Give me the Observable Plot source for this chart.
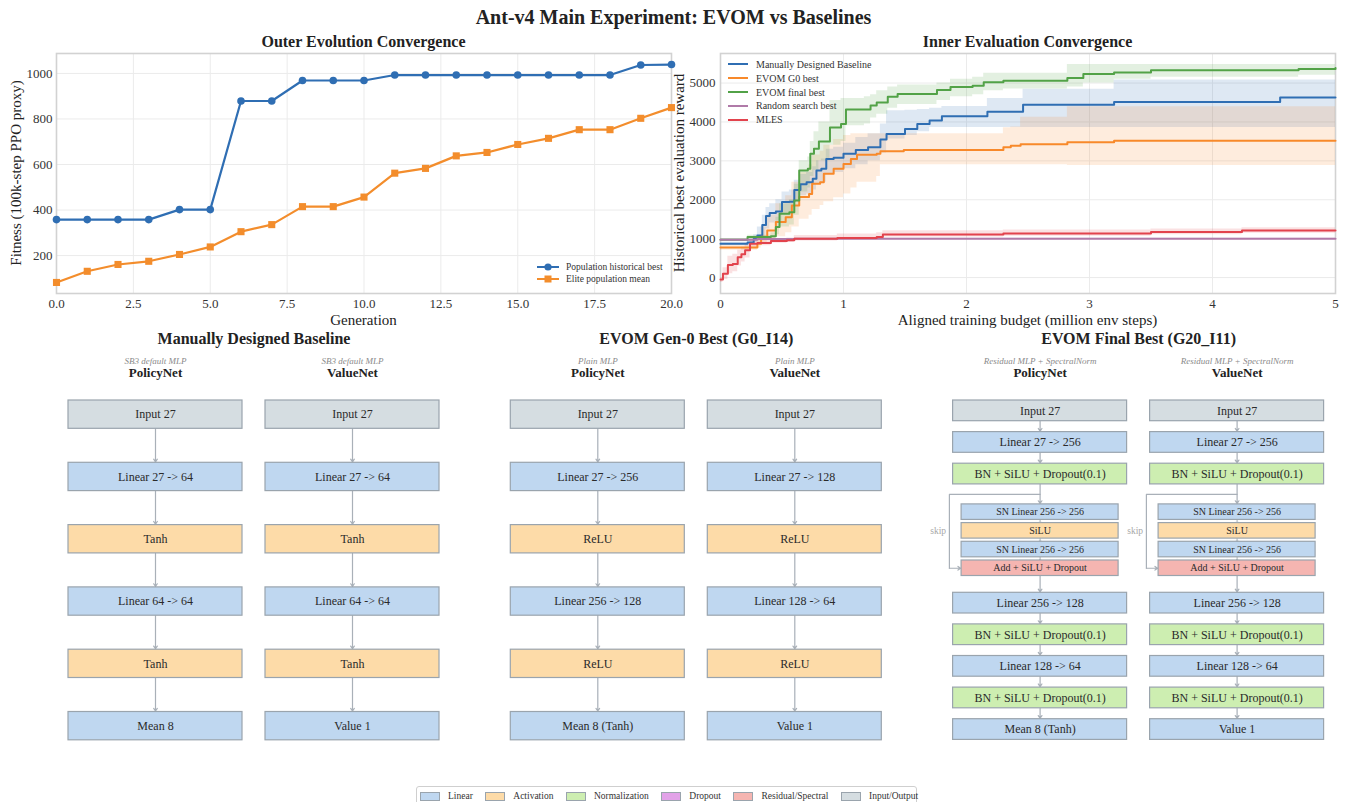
<!DOCTYPE html>
<html><head><meta charset="utf-8">
<script src="https://cdn.jsdelivr.net/npm/d3@7"></script>
<script src="https://cdn.jsdelivr.net/npm/@observablehq/plot@0.6"></script>
<style>
html,body{margin:0;padding:0;background:#fff;}
#root{position:relative;width:1347px;height:802px;overflow:hidden;font-family:"Liberation Serif","Times New Roman",Times,serif;color:#222;}
.abs{position:absolute;}
.ctr{position:absolute;white-space:nowrap;line-height:1;transform:translate(-50%,-50%);}
.rot{position:absolute;white-space:nowrap;line-height:1;transform:translate(-50%,-50%) rotate(-90deg);}
.leg{position:absolute;font-size:10px;color:#333;}
.leg .row{display:flex;align-items:center;white-space:nowrap;}
.blegend{position:absolute;left:416px;top:786px;width:501px;height:24px;border:1px solid #cfcfcf;border-radius:3px;display:flex;align-items:flex-start;padding-top:4px;padding-left:3px;box-sizing:border-box;font-size:9.5px;color:#333;}
.blegend .it{display:flex;align-items:center;margin-right:12.5px;white-space:nowrap;}
.blegend .sw{width:18px;height:7px;border:1px solid #9aa4ad;margin-right:8px;}
</style></head>
<body><div id="root"></div>
<script>
const FONT = '"Liberation Serif", "Times New Roman", Times, serif';

// ---------------- Outer evolution convergence ----------------
const generations = [0,1,2,3,4,5,6,7,8,9,10,11,12,13,14,15,16,17,18,19,20];
const historicalBest = [358,358,358,358,402,402,879,879,969,969,969,993,993,993,993,993,993,993,993,1037,1039];
const eliteMean = [82,131,161,175,205,238,305,336,415,415,457,562,583,638,653,688,715,753,753,803,850];
const genTicks = [0,2.5,5,7.5,10,12.5,15,17.5,20];
const fitnessTicks = [200,400,600,800,1000];
const outerNames = ["Population historical best","Elite population mean"];
const outerColors = ["#2f6eb3","#f38d2c"];

// ---------------- Inner evaluation convergence ----------------
const budgetTicks = [0,1,2,3,4,5];
const rewardTicks = [0,1000,2000,3000,4000,5000];
const seriesNames = ["Manually Designed Baseline","EVOM G0 best","EVOM final best","Random search best","MLES"];
const seriesColors = ["#2f6eb3","#f8892a","#52a247","#b07aa8","#e2434d"];

const baselineBudget = [0,0.22,0.27,0.30,0.34,0.37,0.40,0.45,0.50,0.56,0.60,0.65,0.70,0.75,0.78,0.82,0.86,0.92,1.00,1.10,1.20,1.30,1.35,1.50,1.60,1.70,1.80,2.17,2.46,3.20,4.55,5.00];
const baselineReward = [870,900,1000,1080,1350,1580,1660,1700,1940,1950,2250,2400,2450,2540,2750,2800,3050,3080,3180,3280,3350,3550,3690,3820,3950,4040,4150,4260,4440,4510,4630,4630];
const baselineLow = [830,850,900,950,1050,1250,1400,1450,1650,1700,1950,2100,2150,2250,2400,2450,2650,2700,2800,2900,3000,3200,3560,3650,3750,3860,3860,3860,3860,3860,3860,3860];
const baselineHigh = [910,960,1100,1300,1600,1800,1900,2000,2200,2250,2500,2650,2700,2850,3000,3050,3300,3350,3450,3600,3700,3950,4290,4300,4320,4350,4400,4600,4840,5080,5080,5080];

const g0Budget = [0,0.30,0.33,0.38,0.45,0.53,0.58,0.64,0.72,0.745,0.81,0.84,0.92,1.00,1.06,1.11,1.27,1.30,1.49,2.30,2.36,2.44,2.82,3.20,5.00];
const g0Reward = [770,870,1050,1210,1430,1550,1850,2070,2150,2410,2450,2670,2800,2920,3050,3160,3180,3250,3280,3350,3390,3430,3480,3520,3520];
const g0Low = [700,760,850,950,1050,1150,1300,1500,1600,1750,1850,1950,2050,2150,2300,2450,2600,2900,2900,2900,2900,2900,2880,2880,2880];
const g0High = [840,1000,1300,1600,1900,2100,2450,2700,2900,3150,3250,3400,3550,3650,3700,3700,3700,3700,3700,3850,3870,4120,4390,4390,4390];

const finalBudget = [0,0.22,0.41,0.45,0.48,0.56,0.60,0.64,0.71,0.73,0.76,0.80,0.89,0.98,1.02,1.17,1.22,1.27,1.36,1.44,1.76,1.87,2.05,2.14,2.30,2.82,2.95,3.20,3.50,4.70,5.00];
const finalReward = [975,1040,1060,1300,1640,1680,1980,2750,2800,3180,3310,3500,3860,3950,4320,4320,4420,4500,4650,4720,4820,4900,4930,5020,5060,5130,5230,5270,5330,5360,5385];
const finalLow = [950,990,1000,1100,1300,1350,1600,2200,2300,2600,2750,3000,3400,3500,3900,3950,4100,4200,4350,4450,4550,4650,4700,4800,4850,4900,5000,5100,5150,5200,5300];
const finalHigh = [1000,1090,1150,1550,1900,2000,2400,3000,3100,3500,3750,4000,4550,4600,4600,4650,4700,4800,4900,4950,5000,5100,5150,5250,5250,5480,5480,5480,5480,5480,5480];

const randomBudget = [0,0.30,0.60,5.00];
const randomReward = [975,990,1000,1000];
const randomLow = [960,975,985,985];
const randomHigh = [990,1005,1015,1015];

const mlesBudget = [0,0.02,0.06,0.10,0.14,0.17,0.20,0.24,0.30,0.41,0.54,0.60,0.95,1.27,1.32,2.30,3.50,4.24,5.00];
const mlesReward = [-50,100,320,350,520,600,700,870,890,940,960,1000,1020,1040,1110,1130,1170,1210,1210];
const mlesLow = [-130,-50,100,150,300,400,500,780,820,880,900,940,960,980,1040,1060,1100,1140,1140];
const mlesHigh = [0,250,550,600,700,780,850,950,960,1000,1020,1080,1120,1150,1200,1220,1250,1280,1280];

// ---------------- Architecture diagrams ----------------
const panelTitles = ["Manually Designed Baseline","EVOM Gen-0 Best (G0_I14)","EVOM Final Best (G20_I11)"];
const panelNotes = ["SB3 default MLP","Plain MLP","Residual MLP + SpectralNorm"];
const netNames = ["PolicyNet","ValueNet"];
const kindKeys = ["linear","act","norm","dropout","residual","io"];
const kindNames = ["Linear","Activation","Normalization","Dropout","Residual/Spectral","Input/Output"];
const kindColors = ["#bfd7f0","#fddba8","#cdeeb1","#e2a2e8","#f5b5b1","#d5dde1"];

const baselinePolicy = ["Input 27","Linear 27 -> 64","Tanh","Linear 64 -> 64","Tanh","Mean 8"];
const baselineValue = ["Input 27","Linear 27 -> 64","Tanh","Linear 64 -> 64","Tanh","Value 1"];
const g0Policy = ["Input 27","Linear 27 -> 256","ReLU","Linear 256 -> 128","ReLU","Mean 8 (Tanh)"];
const g0Value = ["Input 27","Linear 27 -> 128","ReLU","Linear 128 -> 64","ReLU","Value 1"];
const plainKinds = ["io","linear","act","linear","act","linear"];
const finalPolicy = ["Input 27","Linear 27 -> 256","BN + SiLU + Dropout(0.1)","SN Linear 256 -> 256","SiLU","SN Linear 256 -> 256","Add + SiLU + Dropout","Linear 256 -> 128","BN + SiLU + Dropout(0.1)","Linear 128 -> 64","BN + SiLU + Dropout(0.1)","Mean 8 (Tanh)"];
const finalValue = ["Input 27","Linear 27 -> 256","BN + SiLU + Dropout(0.1)","SN Linear 256 -> 256","SiLU","SN Linear 256 -> 256","Add + SiLU + Dropout","Linear 256 -> 128","BN + SiLU + Dropout(0.1)","Linear 128 -> 64","BN + SiLU + Dropout(0.1)","Value 1"];
const finalKinds = ["io","linear","norm","linear","act","linear","residual","linear","norm","linear","norm","linear"];
const finalInBlock = [0,0,0,1,1,1,1,0,0,0,0,0];

// ================= rendering =================
const root = document.getElementById("root");
function addDiv(cls, text, css) {
  const d = document.createElement("div");
  d.className = cls; if (text != null) d.textContent = text;
  Object.assign(d.style, css || {});
  root.appendChild(d); return d;
}
function placePlot(svg, left, top, width) {
  const d = document.createElement("div");
  d.className = "abs"; d.style.left = left + "px"; d.style.top = top + "px"; d.style.width = width + "px";
  d.appendChild(svg); root.appendChild(d);
}
const GRID = "#ebebeb", FRAME = "#d2d2d2";
const intFmt = d3.format("d");

// titles
addDiv("ctr", "Ant-v4 Main Experiment: EVOM vs Baselines", {left:"673.5px", top:"16.5px", fontSize:"20px", fontWeight:"bold"});
addDiv("ctr", "Outer Evolution Convergence", {left:"363.5px", top:"41.8px", fontSize:"16px", fontWeight:"bold"});
addDiv("ctr", "Inner Evaluation Convergence", {left:"1027.5px", top:"41.8px", fontSize:"16px", fontWeight:"bold"});

// ---- left chart
const outerRows = generations.map((g, i) => ({gen: g, best: historicalBest[i], mean: eliteMean[i]}));
const outer = Plot.plot({
  width: 690, height: 300, marginLeft: 56, marginRight: 19, marginTop: 23, marginBottom: 37,
  style: {fontFamily: FONT, fontSize: "13px", color: "#333", background: "transparent", overflow: "visible"},
  x: {domain: [0, 20]},
  y: {domain: [33.5, 1087.6]},
  marks: [
    Plot.gridX(genTicks, {stroke: GRID, strokeOpacity: 1, strokeWidth: 1}),
    Plot.gridY(fitnessTicks, {stroke: GRID, strokeOpacity: 1, strokeWidth: 1}),
    Plot.frame({stroke: FRAME, strokeWidth: 1.6}),
    Plot.axisX(genTicks, {tickSize: 0, tickPadding: 5, tickFormat: d3.format(".1f"), fontSize: 13, label: null}),
    Plot.axisY(fitnessTicks, {tickSize: 0, tickPadding: 4, tickFormat: intFmt, fontSize: 13, label: null}),
    Plot.line(outerRows, {x: "gen", y: "best", stroke: outerColors[0], strokeWidth: 2.2}),
    Plot.dot(outerRows, {x: "gen", y: "best", fill: outerColors[0], r: 3.8, symbol: "circle"}),
    Plot.line(outerRows, {x: "gen", y: "mean", stroke: outerColors[1], strokeWidth: 2.2}),
    Plot.dot(outerRows, {x: "gen", y: "mean", fill: outerColors[1], r: 4, symbol: "square"})
  ]
});
placePlot(outer, 0, 30, 690);
addDiv("ctr", "Generation", {left:"363.5px", top:"320px", fontSize:"15px"});
addDiv("rot", "Fitness (100k-step PPO proxy)", {left:"16px", top:"173px", fontSize:"15px"});

// left legend
{
  const leg = addDiv("leg", null, {left:"537px", top:"261px", fontSize:"9.5px"});
  outerNames.forEach((n, i) => {
    const row = document.createElement("div"); row.className = "row"; row.style.height = "12px";
    const mk = i === 0 ? '<circle cx="11" cy="5" r="3.6" fill="' + outerColors[i] + '"/>' : '<rect x="7.5" y="1.5" width="7" height="7" fill="' + outerColors[i] + '"/>';
    row.innerHTML = '<svg width="22" height="10" style="margin-right:7px"><line x1="0" x2="22" y1="5" y2="5" stroke="' + outerColors[i] + '" stroke-width="2"/>' + mk + '</svg><span>' + n + '</span>';
    leg.appendChild(row);
  });
}

// ---- right chart
function seriesRows(name, xs, ys, lo, hi) { return xs.map((x, i) => ({name, x, y: ys[i], lo: lo[i], hi: hi[i]})); }
const innerRows = [].concat(
  seriesRows(seriesNames[0], baselineBudget, baselineReward, baselineLow, baselineHigh),
  seriesRows(seriesNames[1], g0Budget, g0Reward, g0Low, g0High),
  seriesRows(seriesNames[2], finalBudget, finalReward, finalLow, finalHigh),
  seriesRows(seriesNames[3], randomBudget, randomReward, randomLow, randomHigh),
  seriesRows(seriesNames[4], mlesBudget, mlesReward, mlesLow, mlesHigh)
);
const inner = Plot.plot({
  width: 677, height: 300, marginLeft: 50, marginRight: 12, marginTop: 23, marginBottom: 37,
  style: {fontFamily: FONT, fontSize: "13px", color: "#333", background: "transparent", overflow: "visible"},
  x: {domain: [0, 5]},
  y: {domain: [-410, 5760]},
  color: {domain: seriesNames, range: seriesColors},
  marks: [
    Plot.gridX(budgetTicks, {stroke: GRID, strokeOpacity: 1, strokeWidth: 1}),
    Plot.gridY(rewardTicks, {stroke: GRID, strokeOpacity: 1, strokeWidth: 1}),
    Plot.frame({stroke: FRAME, strokeWidth: 1.6}),
    Plot.axisX(budgetTicks, {tickSize: 0, tickPadding: 5, tickFormat: intFmt, fontSize: 13, label: null}),
    Plot.axisY(rewardTicks, {tickSize: 0, tickPadding: 5, tickFormat: intFmt, fontSize: 13, label: null}),
    Plot.areaY(innerRows, {x: "x", y1: "lo", y2: "hi", z: "name", fill: "name", fillOpacity: 0.16, curve: "step-after"}),
    Plot.line(innerRows, {x: "x", y: "y", z: "name", stroke: "name", strokeWidth: 2, curve: "step-after"})
  ]
});
placePlot(inner, 670, 30, 677);
addDiv("ctr", "Aligned training budget (million env steps)", {left:"1027.5px", top:"320px", fontSize:"15px"});
addDiv("rot", "Historical best evaluation reward", {left:"679px", top:"173px", fontSize:"15px"});
{
  const leg = addDiv("leg", null, {left:"728px", top:"57.4px", fontSize:"10px"});
  seriesNames.forEach((n, i) => {
    const row = document.createElement("div"); row.className = "row"; row.style.height = "13.85px";
    row.innerHTML = '<svg width="20" height="4" style="margin-right:8px"><line x1="0" x2="20" y1="2" y2="2" stroke="' + seriesColors[i] + '" stroke-width="2"/></svg><span>' + n + '</span>';
    leg.appendChild(row);
  });
}

// ---- architecture diagrams
const L = {
  panelCenter0: 253.5, panelStep: 442.3, colOffset: 98.5, boxW: 174, subInset: 8.5,
  titleY: 338.5, noteY: 360.6, netY: 372.8,
  plain: {top: 400, h: 28.3, gap: 34},
  res: {top: 400, h: 20.7, hSub: 15.5, gapMain: 10.9, gapIn: 20, gapSub: 3.2, gapOut: 16.8},
  skipDx: 3.7
};
const nets = [
  {panel: 0, col: 0, labels: baselinePolicy, kinds: plainKinds},
  {panel: 0, col: 1, labels: baselineValue, kinds: plainKinds},
  {panel: 1, col: 0, labels: g0Policy, kinds: plainKinds},
  {panel: 1, col: 1, labels: g0Value, kinds: plainKinds},
  {panel: 2, col: 0, labels: finalPolicy, kinds: finalKinds, block: finalInBlock},
  {panel: 2, col: 1, labels: finalValue, kinds: finalKinds, block: finalInBlock}
];
const boxes = [], arrows = [], smallArrows = [], skipPts = [], skipArrows = [], skipLabels = [];
const panels = panelTitles.map((t, p) => ({p, cx: L.panelCenter0 + p * L.panelStep, title: t, note: panelNotes[p]}));
const heads = [];
nets.forEach((net, ni) => {
  const cx = L.panelCenter0 + net.panel * L.panelStep + (net.col === 0 ? -1 : 1) * L.colOffset;
  heads.push({cx, note: panelNotes[net.panel], name: netNames[net.col]});
  const bx1 = cx - L.boxW / 2, bx2 = cx + L.boxW / 2;
  let y = net.block ? L.res.top : L.plain.top;
  const list = [];
  net.labels.forEach((lab, i) => {
    const sub = net.block ? net.block[i] === 1 : false;
    if (i > 0) {
      if (!net.block) y += L.plain.gap;
      else {
        const prevSub = net.block[i - 1] === 1;
        y += sub && prevSub ? L.res.gapSub : sub ? L.res.gapIn : prevSub ? L.res.gapOut : L.res.gapMain;
      }
    }
    const h = net.block ? (sub ? L.res.hSub : L.res.h) : L.plain.h;
    const b = {label: lab, kind: net.kinds[i], sub, x1: sub ? bx1 + L.subInset : bx1, x2: sub ? bx2 - L.subInset : bx2, y1: y, y2: y + h, cx, cy: y + h / 2};
    list.push(b); boxes.push(b);
    y += h;
  });
  for (let i = 1; i < list.length; i++) {
    const a = {x: cx, y1: list[i - 1].y2, y2: list[i].y1};
    if (list[i].sub && list[i - 1].sub) smallArrows.push(a); else arrows.push(a);
  }
  if (net.block) {
    const first = list.findIndex(b => b.sub);
    const last = list.length - 1 - [...list].reverse().findIndex(b => b.sub);
    const ys = (list[first - 1].y2 + list[first].y1) / 2;
    const sx = bx1 - L.skipDx;
    const ye = list[last].cy;
    skipPts.push({id: ni, x: cx, y: ys}, {id: ni, x: sx, y: ys}, {id: ni, x: sx, y: ye});
    skipArrows.push({x1: sx, x2: list[last].x1, y: ye});
    skipLabels.push({x: sx - 3.3, y: (ys + ye) / 2});
  }
});
const ARROW = "#a9b0b8";
const diagram = Plot.plot({
  width: 1347, height: 472, marginTop: 0, marginBottom: 0, marginLeft: 0, marginRight: 0,
  style: {fontFamily: FONT, fontSize: "12px", color: "#2a2a2a", background: "transparent", overflow: "visible"},
  x: {domain: [0, 1347], axis: null},
  y: {domain: [802, 330], axis: null},
  color: {domain: kindKeys, range: kindColors},
  marks: [
    Plot.arrow(arrows, {x1: "x", x2: "x", y1: "y1", y2: "y2", stroke: ARROW, strokeWidth: 1.2, headLength: 4, headAngle: 70, insetEnd: 1}),
    Plot.arrow(smallArrows, {x1: "x", x2: "x", y1: "y1", y2: "y2", stroke: ARROW, strokeWidth: 1, headLength: 2, insetEnd: 0}),
    Plot.line(skipPts, {x: "x", y: "y", z: "id", stroke: ARROW, strokeWidth: 1.2}),
    Plot.arrow(skipArrows, {x1: "x1", x2: "x2", y1: "y", y2: "y", stroke: ARROW, strokeWidth: 1.2, headLength: 4, headAngle: 70, insetEnd: 1}),
    Plot.rect(boxes, {x1: "x1", x2: "x2", y1: "y1", y2: "y2", fill: "kind", stroke: "#9aa4ad", strokeWidth: 1.2}),
    Plot.text(boxes.filter(b => !b.sub), {x: "cx", y: "cy", text: "label", fontSize: 12, fill: "#2a2a2a"}),
    Plot.text(boxes.filter(b => b.sub), {x: "cx", y: "cy", text: "label", fontSize: 10, fill: "#2a2a2a"}),
    Plot.text(skipLabels, {x: "x", y: "y", text: () => "skip", textAnchor: "end", fontSize: 9.5, fill: "#a8a8a8"}),
    Plot.text(panels, {x: "cx", y: () => L.titleY, text: "title", fontSize: 16, fontWeight: "bold", fill: "#222"}),
    Plot.text(heads, {x: "cx", y: () => L.noteY, text: "note", fontSize: 9, fontStyle: "italic", fill: "#8a8a8a"}),
    Plot.text(heads, {x: "cx", y: () => L.netY, text: "name", fontSize: 13, fontWeight: "bold", fill: "#222"})
  ]
});
placePlot(diagram, 0, 330, 1347);

// bottom legend
{
  const leg = addDiv("blegend", null, {});
  kindNames.forEach((n, i) => {
    const it = document.createElement("div"); it.className = "it";
    it.innerHTML = '<span class="sw" style="background:' + kindColors[i] + '"></span><span>' + n + '</span>';
    leg.appendChild(it);
  });
}
</script>
</body></html>
